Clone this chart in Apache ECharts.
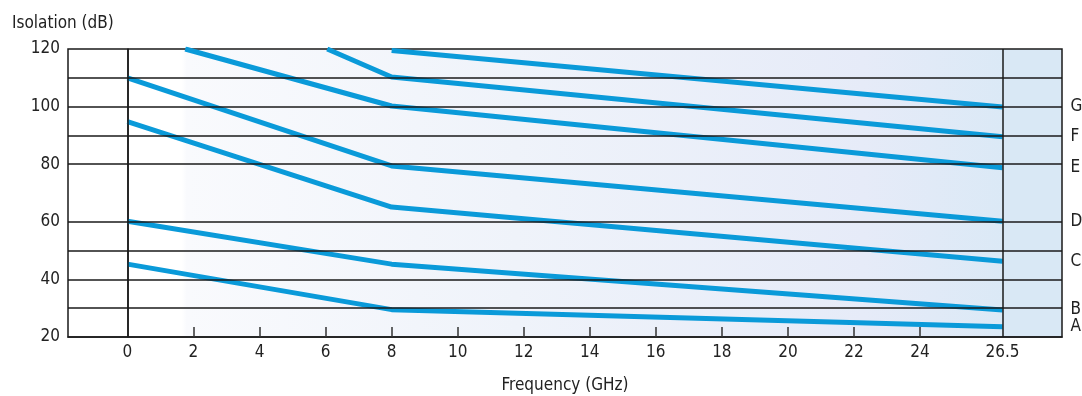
<!DOCTYPE html>
<html>
<head>
<meta charset="utf-8">
<script src="https://cdn.jsdelivr.net/npm/echarts@6/dist/echarts.min.js"></script>
<style>
  html, body { margin: 0; padding: 0; background: #fff; }
  #main { width: 1082px; height: 396px; }
</style>
</head>
<body>
<div id="main"></div>
<script>
// curve data (frequency GHz, isolation dB)
var lineA = [[0, 45.3], [8, 29.5], [26.5, 23.6]];
var lineB = [[0, 60.2], [8, 45.3], [26.5, 29.4]];
var lineC = [[0, 94.8], [8, 65.1], [26.5, 46.3]];
var lineD = [[0, 110], [8, 79.4], [26.5, 60.2]];
var lineE = [[1.75, 120], [8, 100.2], [26.5, 78.8]];
var lineF = [[6.05, 120], [8, 110.3], [26.5, 89.5]];
var lineG = [[8, 119.5], [26.5, 99.9]];
var curveNames = ['A', 'B', 'C', 'D', 'E', 'F', 'G'];
var curves = [lineA, lineB, lineC, lineD, lineE, lineF, lineG];

// axis labels / grid lines
var xLabelValues = [0, 2, 4, 6, 8, 10, 12, 14, 16, 18, 20, 22, 24, 26.5];
var xTickValues = [2, 4, 6, 8, 10, 12, 14, 16, 18, 20, 22, 24];
var yGridLevels = [110, 100, 90, 80, 60, 50, 40, 30];
var xGridLevels = [0, 26.5];

var FONT = '"DejaVu Sans Condensed", "Liberation Sans Narrow", sans-serif';
var chart = echarts.init(document.getElementById('main'));

var series = [];
// helper series: grid lines
series.push({
    type: 'line',
    data: [],
    silent: true,
    z: 1,
    markLine: {
        silent: true,
        symbol: 'none',
        label: { show: false },
        lineStyle: { color: '#1a1a1a', width: 1.5, type: 'solid' },
        data: yGridLevels.map(function (v) { return { yAxis: v }; })
            .concat(xGridLevels.map(function (v) { return { xAxis: v }; }))
    }
});
curves.forEach(function (pts, i) {
    series.push({
        name: curveNames[i],
        type: 'line',
        data: pts,
        symbol: 'none',
        z: 3,
        lineStyle: { color: '#0a9ad9', width: 5 },
        endLabel: {
            show: true,
            formatter: '{a}',
            distance: 68,
            color: '#222',
            fontSize: 17,
            fontFamily: FONT
        }
    });
});

var option = {
    animation: false,
    // y axis title sits top-left, outside the axis
    title: {
        text: 'Isolation (dB)',
        left: 7,
        top: 10,
        textStyle: { color: '#222', fontSize: 17, fontWeight: 'normal', fontFamily: FONT }
    },
    grid: {
        left: 68,
        right: 20,
        top: 49,
        bottom: 59,
        outerBoundsMode: 'none',
        show: true,
        borderColor: '#1a1a1a',
        borderWidth: 1.5,
        backgroundColor: new echarts.graphic.LinearGradient(0, 0, 1, 0, [
            { offset: 0, color: '#ffffff' },
            { offset: 0.115, color: '#ffffff' },
            { offset: 0.12, color: '#f9fafd' },
            { offset: 0.45, color: '#eff3fa' },
            { offset: 0.8, color: '#e6ebf8' },
            { offset: 0.94, color: '#dbe9f6' },
            { offset: 0.941, color: '#d9e8f5' },
            { offset: 1, color: '#d9e8f5' }
        ])
    },
    xAxis: {
        type: 'value',
        min: -1.8,
        max: 28.3,
        name: 'Frequency (GHz)',
        nameLocation: 'middle',
        nameGap: 40,
        nameTextStyle: { color: '#222', fontSize: 17, fontFamily: FONT },
        axisLine: { show: true, lineStyle: { color: '#1a1a1a', width: 1.5 } },
        axisTick: {
            show: true,
            inside: true,
            length: 10,
            customValues: xTickValues,
            lineStyle: { color: '#333', width: 1.5 }
        },
        axisLabel: {
            customValues: xLabelValues,
            margin: 7,
            color: '#222',
            fontSize: 17,
            fontFamily: FONT
        },
        splitLine: { show: false }
    },
    yAxis: {
        type: 'value',
        min: 20,
        max: 120,
        interval: 20,
        axisLine: { show: true, lineStyle: { color: '#1a1a1a', width: 1.5 } },
        axisTick: { show: false },
        axisLabel: { margin: 8, color: '#222', fontSize: 17, fontFamily: FONT },
        splitLine: { show: false }
    },
    series: series
};
chart.setOption(option);
</script>
</body>
</html>
